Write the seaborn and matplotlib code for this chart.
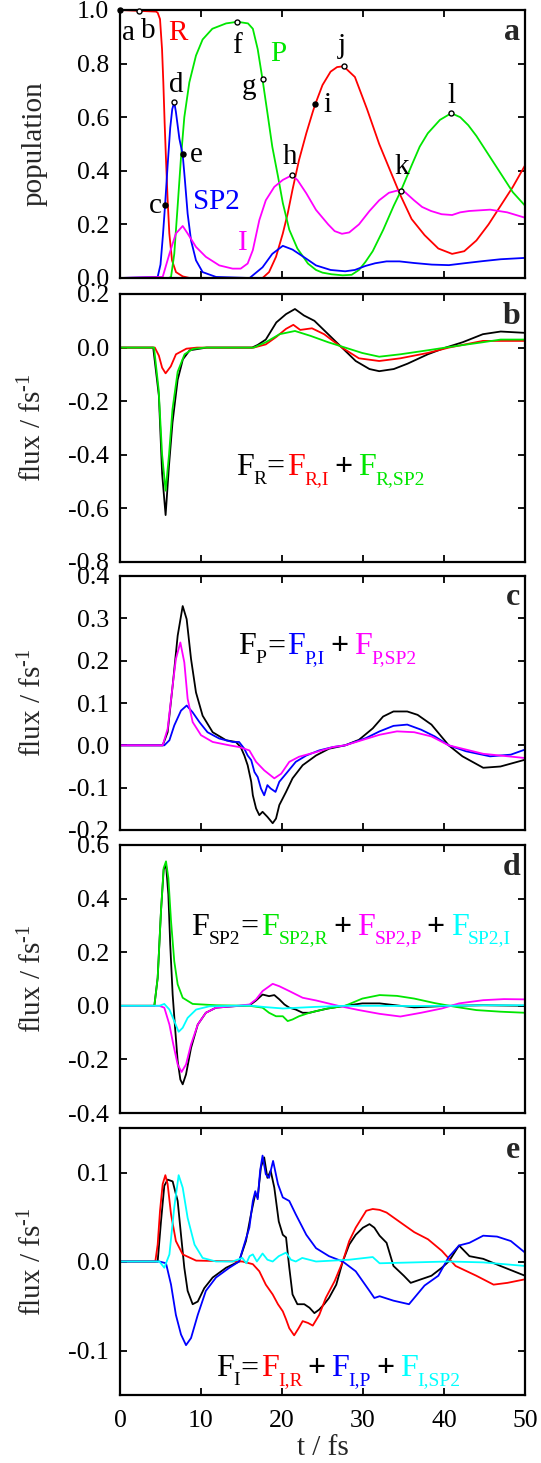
import matplotlib
matplotlib.use("Agg")
import matplotlib.pyplot as plt
import matplotlib.transforms as mtransforms
import matplotlib.ticker as mticker
import seaborn as sns
import pandas as pd

# ---------------- data ----------------
# panel a : populations
a_R_t = [0, 4.44, 4.65, 4.94, 5.19, 5.35, 5.51, 5.68, 5.88, 6.09, 6.42, 6.91, 7.74, 8.6, 17.6, 18.4, 19.26, 20.1, 20.7, 21.3, 22.1, 23.0, 23.8, 24.1, 25.0, 26.0, 26.8, 27.6, 29.0, 30.5, 32.0, 33.5, 34.6, 36.0, 37.6, 39.3, 41.0, 42.5, 44.0, 45.5, 47.0, 48.5, 50.0]
a_R_y = [1.0, 0.994, 0.99, 0.966, 0.854, 0.729, 0.579, 0.441, 0.291, 0.166, 0.066, 0.022, 0.006, 0.0, 0.0, 0.022, 0.079, 0.166, 0.24, 0.33, 0.44, 0.54, 0.62, 0.648, 0.72, 0.77, 0.787, 0.79, 0.75, 0.63, 0.5, 0.39, 0.31, 0.22, 0.16, 0.11, 0.09, 0.1, 0.14, 0.2, 0.27, 0.34, 0.42]
a_P_t = [0, 6.0, 6.3, 6.7, 7.12, 7.53, 7.94, 8.56, 9.38, 10.2, 11.4, 13.1, 14.5, 15.8, 16.4, 17.0, 17.6, 18.2, 18.8, 19.5, 20.1, 20.9, 21.9, 23.2, 24.2, 25.0, 26.1, 27.5, 28.6, 29.5, 30.3, 31.2, 32.5, 33.8, 34.6, 36.0, 37.0, 38.0, 39.5, 40.9, 42.0, 43.0, 44.0, 45.5, 47.0, 48.5, 50.0]
a_P_y = [0, 0, 0.004, 0.09, 0.27, 0.45, 0.6, 0.73, 0.83, 0.89, 0.93, 0.95, 0.956, 0.95, 0.93, 0.854, 0.74, 0.616, 0.49, 0.38, 0.28, 0.18, 0.11, 0.054, 0.03, 0.02, 0.014, 0.01, 0.012, 0.03, 0.06, 0.1, 0.18, 0.27, 0.32, 0.42, 0.49, 0.54, 0.59, 0.615, 0.6, 0.57, 0.53, 0.46, 0.39, 0.32, 0.27]
a_SP2_t = [0, 4.65, 5.0, 5.3, 5.56, 5.88, 6.2, 6.45, 6.7, 6.9, 7.33, 7.74, 8.0, 8.35, 8.77, 9.38, 10.2, 11.85, 16.0, 17.6, 18.8, 20.1, 21.3, 23.0, 24.2, 26.0, 27.8, 29.0, 30.3, 31.5, 32.9, 34.5, 36.3, 38.5, 40.6, 42.5, 44.8, 47.0, 50.0]
a_SP2_y = [0, 0.004, 0.05, 0.16, 0.27, 0.42, 0.56, 0.63, 0.656, 0.62, 0.52, 0.46, 0.37, 0.24, 0.14, 0.066, 0.022, 0.004, 0.0, 0.04, 0.09, 0.12, 0.106, 0.072, 0.047, 0.03, 0.025, 0.03, 0.045, 0.055, 0.062, 0.062, 0.056, 0.05, 0.048, 0.055, 0.063, 0.07, 0.075]
a_I_t = [0, 5.27, 6.1, 6.9, 7.74, 8.35, 9.38, 10.6, 12.26, 13.9, 14.9, 15.76, 16.4, 17.2, 18.0, 19.05, 20.1, 21.2, 21.9, 23.0, 24.2, 25.7, 26.5, 27.4, 28.3, 29.5, 30.8, 32.0, 33.2, 34.2, 35.2, 36.3, 37.3, 38.4, 39.7, 41.0, 42.0, 43.1, 45.7, 47.8, 50.0]
a_I_y = [0, 0.004, 0.09, 0.166, 0.194, 0.166, 0.116, 0.079, 0.047, 0.035, 0.035, 0.054, 0.104, 0.216, 0.29, 0.34, 0.366, 0.383, 0.366, 0.316, 0.254, 0.2, 0.175, 0.165, 0.17, 0.2, 0.25, 0.29, 0.318, 0.326, 0.32, 0.29, 0.265, 0.25, 0.238, 0.235, 0.245, 0.25, 0.255, 0.245, 0.225]
a_mark_lab = ["a", "b", "c", "d", "e", "f", "g", "h", "i", "j", "k", "l"]
a_mark_t = [0.0, 2.3, 5.56, 6.7, 7.74, 14.5, 17.6, 21.2, 24.1, 27.6, 34.7, 40.9]
a_mark_y = [1.0, 0.995, 0.272, 0.656, 0.462, 0.956, 0.741, 0.383, 0.648, 0.791, 0.325, 0.615]
a_mark_filled = [True, False, True, False, True, False, False, False, True, False, False, False]

# panel b : F_R
b_tot_t = [0, 4.1, 4.8, 5.2, 5.63, 6.05, 6.48, 7.12, 7.76, 8.6, 10.7, 16.3, 17.0, 18.0, 19.3, 20.5, 21.6, 22.7, 24.0, 25.7, 27.4, 29.1, 30.8, 32.0, 33.8, 35.5, 38.0, 40.2, 42.3, 44.8, 47.0, 50.0]
b_tot_y = [0, 0, -0.18, -0.47, -0.625, -0.44, -0.28, -0.12, -0.044, -0.01, 0, 0, 0.01, 0.03, 0.094, 0.125, 0.144, 0.12, 0.10, 0.05, 0.0, -0.05, -0.08, -0.088, -0.08, -0.06, -0.025, 0.0, 0.02, 0.05, 0.06, 0.055]
b_RI_t = [0, 4.3, 4.8, 5.2, 5.63, 6.27, 6.91, 8.2, 9.5, 16.5, 18.0, 19.3, 20.5, 21.4, 22.25, 23.7, 25.2, 27.4, 29.5, 32.0, 34.6, 38.0, 40.6, 44.8, 50.0]
b_RI_y = [0, 0, -0.03, -0.075, -0.096, -0.07, -0.025, -0.004, 0, 0, 0.012, 0.04, 0.07, 0.085, 0.066, 0.072, 0.05, 0.0, -0.04, -0.05, -0.04, -0.02, 0.0, 0.025, 0.025]
b_RSP2_t = [0, 4.2, 4.77, 5.2, 5.63, 6.05, 6.48, 7.12, 7.97, 9.0, 10.5, 16.5, 18.0, 19.7, 21.6, 23.5, 25.7, 27.8, 29.9, 32.0, 34.6, 38.0, 40.6, 44.8, 47.0, 50.0]
b_RSP2_y = [0, 0, -0.156, -0.40, -0.534, -0.40, -0.23, -0.09, -0.025, -0.005, 0, 0, 0.02, 0.05, 0.062, 0.044, 0.02, 0.0, -0.02, -0.034, -0.025, -0.01, 0.002, 0.02, 0.03, 0.03]

# panel c : F_P
c_tot_t = [0, 5.27, 5.88, 6.5, 7.12, 7.74, 8.23, 8.77, 9.38, 10.2, 11.44, 13.1, 14.3, 14.9, 15.35, 15.76, 16.2, 16.4, 16.8, 17.2, 17.6, 18.2, 18.85, 19.26, 19.67, 20.5, 21.3, 22.55, 24.2, 25.8, 27.79, 29.5, 31.2, 32.48, 33.76, 35.46, 36.74, 38.45, 40.58, 42.28, 44.84, 46.97, 50.0]
c_tot_y = [0, 0, 0.031, 0.141, 0.259, 0.329, 0.298, 0.204, 0.125, 0.07, 0.031, 0.012, 0.008, -0.004, -0.024, -0.047, -0.086, -0.118, -0.149, -0.165, -0.157, -0.169, -0.184, -0.173, -0.141, -0.11, -0.078, -0.047, -0.024, -0.008, 0.0, 0.013, 0.04, 0.068, 0.08, 0.08, 0.072, 0.049, 0.0, -0.026, -0.053, -0.05, -0.034]
c_PI_t = [0, 5.47, 6.1, 6.7, 7.53, 8.23, 8.97, 9.8, 10.8, 12.26, 13.9, 14.7, 15.35, 15.76, 16.2, 16.6, 17.0, 17.4, 17.8, 18.2, 18.6, 19.2, 19.67, 20.5, 21.7, 23.0, 24.6, 26.3, 27.79, 30.35, 32.05, 33.76, 35.46, 37.17, 38.87, 40.58, 42.71, 45.69, 48.25, 50.0]
c_PI_y = [0, 0, 0.012, 0.047, 0.082, 0.094, 0.078, 0.055, 0.031, 0.016, 0.008, 0.008, -0.008, -0.024, -0.035, -0.063, -0.075, -0.102, -0.118, -0.094, -0.102, -0.11, -0.086, -0.067, -0.039, -0.024, -0.012, -0.004, 0.0, 0.017, 0.033, 0.046, 0.049, 0.037, 0.021, 0.0, -0.014, -0.026, -0.022, -0.01]
c_PSP2_t = [0, 5.27, 5.88, 6.5, 6.9, 7.45, 7.94, 8.35, 8.97, 10.0, 11.44, 13.5, 14.7, 15.97, 16.8, 17.8, 19.05, 19.9, 20.9, 22.1, 24.2, 26.3, 27.79, 32.05, 34.19, 36.32, 38.45, 40.58, 44.84, 50.0]
c_PSP2_y = [0, 0, 0.039, 0.141, 0.204, 0.243, 0.196, 0.11, 0.055, 0.024, 0.008, 0.0, -0.004, -0.012, -0.039, -0.059, -0.078, -0.067, -0.039, -0.027, -0.016, -0.004, 0.0, 0.025, 0.033, 0.031, 0.021, 0.0, -0.02, -0.03]

# panel d : F_SP2
d_tot_t = [0, 4.24, 4.65, 5.06, 5.39, 5.68, 5.97, 6.2, 6.5, 6.83, 7.12, 7.45, 7.74, 8.15, 8.77, 9.6, 10.6, 11.85, 13.9, 16.0, 16.8, 17.6, 18.4, 19.05, 19.67, 20.3, 20.9, 21.7, 22.55, 23.4, 24.2, 25.66, 27.79, 29.92, 32.05, 36.32, 40.58, 44.84, 50.0]
d_tot_y = [0, 0, 0.104, 0.353, 0.508, 0.527, 0.415, 0.229, 0.042, -0.094, -0.206, -0.275, -0.293, -0.256, -0.157, -0.07, -0.026, -0.007, -0.002, 0.002, 0.02, 0.042, 0.036, 0.04, 0.024, 0.005, -0.007, -0.014, -0.026, -0.026, -0.02, -0.01, 0.0, 0.009, 0.009, -0.006, 0.0, 0.002, 0.0]
d_SR_t = [0, 4.24, 4.65, 5.06, 5.39, 5.68, 5.97, 6.3, 6.7, 7.12, 7.74, 8.97, 11.85, 16.0, 17.6, 18.4, 19.26, 20.1, 20.7, 21.3, 22.1, 23.4, 24.2, 25.66, 27.79, 29.92, 32.05, 34.19, 36.32, 38.87, 41.43, 43.99, 46.97, 50.0]
d_SR_y = [0, 0, 0.104, 0.353, 0.514, 0.539, 0.477, 0.316, 0.166, 0.08, 0.03, 0.007, 0.002, 0.0, -0.007, -0.026, -0.039, -0.039, -0.057, -0.051, -0.039, -0.026, -0.02, -0.01, 0.0, 0.027, 0.04, 0.037, 0.027, 0.01, -0.004, -0.016, -0.022, -0.026]
d_SP_t = [0, 4.86, 5.47, 6.1, 6.58, 7.12, 7.6, 8.15, 8.77, 9.6, 10.6, 11.85, 13.9, 16.0, 16.8, 17.6, 18.85, 19.67, 20.9, 22.55, 24.2, 26.94, 29.5, 32.05, 34.61, 37.17, 39.73, 41.86, 44.84, 47.4, 50.0]
d_SP_y = [0, 0, -0.007, -0.07, -0.144, -0.219, -0.247, -0.219, -0.144, -0.07, -0.026, -0.007, -0.002, 0.005, 0.024, 0.055, 0.082, 0.073, 0.055, 0.03, 0.02, 0.0, -0.016, -0.03, -0.04, -0.026, -0.01, 0.009, 0.021, 0.025, 0.024]
d_SI_t = [0, 4.86, 5.47, 6.1, 6.7, 7.24, 7.74, 8.35, 9.4, 11.0, 13.9, 16.0, 18.0, 20.1, 22.1, 24.2, 27.79, 32.05, 36.32, 40.58, 44.84, 50.0]
d_SI_y = [0, 0, 0.007, -0.014, -0.057, -0.097, -0.082, -0.045, -0.014, -0.002, 0.0, 0.001, -0.005, -0.01, -0.007, -0.004, 0.0, 0.0, -0.001, 0.0, 0.002, 0.002]

# panel e : F_I
e_tot_t = [0, 4.65, 5.06, 5.47, 5.88, 6.5, 7.12, 7.53, 7.94, 8.35, 8.97, 9.6, 10.4, 11.44, 13.1, 14.7, 15.55, 16.17, 16.7, 17.0, 17.4, 17.8, 18.2, 18.6, 19.05, 19.6, 20.1, 20.5, 20.9, 21.3, 21.9, 22.75, 23.4, 24.0, 24.6, 25.2, 25.8, 26.7, 27.5, 28.3, 29.1, 30.0, 30.8, 31.4, 32.05, 32.91, 33.76, 35.04, 35.89, 37.17, 38.45, 39.73, 40.58, 41.86, 43.14, 44.84, 46.97, 50.0]
e_tot_y = [0, 0, 0.045, 0.085, 0.092, 0.09, 0.068, 0.03, -0.007, -0.033, -0.048, -0.045, -0.03, -0.018, -0.007, 0.0, 0.023, 0.053, 0.076, 0.072, 0.106, 0.117, 0.094, 0.102, 0.083, 0.045, 0.03, 0.027, -0.007, -0.037, -0.048, -0.048, -0.052, -0.058, -0.054, -0.048, -0.041, -0.026, 0.0, 0.019, 0.03, 0.038, 0.042, 0.038, 0.029, 0.021, -0.005, -0.016, -0.024, -0.02, -0.016, -0.007, 0.0, 0.018, 0.006, 0.003, -0.005, -0.016]
e_IR_t = [0, 4.36, 4.65, 4.94, 5.27, 5.6, 5.88, 6.3, 6.9, 7.74, 9.4, 15.1, 16.4, 17.2, 18.0, 18.85, 19.5, 20.1, 20.5, 20.9, 21.5, 22.05, 22.55, 23.2, 23.8, 24.6, 25.4, 26.5, 27.5, 28.3, 29.1, 30.4, 31.2, 32.05, 32.91, 34.61, 36.32, 38.02, 39.73, 41.43, 43.99, 46.12, 47.83, 50.0]
e_IR_y = [0, 0, 0.019, 0.057, 0.087, 0.097, 0.087, 0.053, 0.023, 0.008, 0.001, 0.0, -0.003, -0.011, -0.026, -0.037, -0.048, -0.056, -0.065, -0.075, -0.083, -0.075, -0.067, -0.069, -0.072, -0.06, -0.041, -0.022, 0.0, 0.023, 0.038, 0.057, 0.059, 0.058, 0.055, 0.044, 0.033, 0.025, 0.012, -0.005, -0.016, -0.026, -0.024, -0.02]
e_IP_t = [0, 4.86, 5.68, 6.3, 6.9, 7.53, 8.15, 8.77, 9.6, 10.6, 11.85, 13.5, 14.7, 15.1, 15.6, 15.97, 16.4, 16.7, 17.0, 17.3, 17.6, 18.0, 18.4, 18.9, 19.5, 20.1, 20.9, 21.7, 23.0, 24.2, 25.8, 27.5, 29.1, 30.8, 31.4, 32.05, 33.76, 35.68, 37.6, 39.3, 40.58, 41.86, 43.14, 44.84, 46.55, 48.25, 50.0]
e_IP_y = [0, 0, -0.002, -0.026, -0.06, -0.082, -0.094, -0.086, -0.06, -0.033, -0.018, -0.007, 0.0, 0.012, 0.027, 0.038, 0.068, 0.079, 0.07, 0.102, 0.119, 0.098, 0.094, 0.113, 0.087, 0.072, 0.068, 0.053, 0.03, 0.015, 0.006, 0.0, -0.011, -0.033, -0.041, -0.039, -0.044, -0.048, -0.027, -0.016, 0.005, 0.018, 0.021, 0.029, 0.028, 0.023, 0.01]
e_ISP2_t = [0, 4.86, 5.47, 6.1, 6.7, 7.24, 7.74, 8.35, 9.2, 10.2, 11.85, 13.9, 15.1, 15.6, 16.0, 16.4, 16.9, 17.6, 18.2, 18.85, 19.6, 20.5, 21.1, 21.7, 22.5, 24.2, 28.3, 31.2, 32.05, 36.32, 40.58, 44.84, 50.0]
e_ISP2_y = [0, 0, -0.007, 0.008, 0.061, 0.097, 0.083, 0.049, 0.019, 0.004, 0.0, 0.0, 0.004, -0.002, 0.006, 0.008, 0.0, 0.009, 0.002, 0.0, 0.006, 0.01, 0.002, 0.0, 0.004, 0.0, 0.002, 0.005, -0.002, -0.001, 0.0, -0.001, -0.005]

x_ticks = [0, 10, 20, 30, 40, 50]
a_yticks = [0.0, 0.2, 0.4, 0.6, 0.8, 1.0]
b_yticks = [-0.8, -0.6, -0.4, -0.2, 0.0, 0.2]
c_yticks = [-0.2, -0.1, 0.0, 0.1, 0.2, 0.3, 0.4]
d_yticks = [-0.4, -0.2, 0.0, 0.2, 0.4, 0.6]
e_yticks = [-0.1, 0.0, 0.1]

# ---------------- style ----------------
sns.set_theme(style="ticks")
plt.rcParams.update({
    "font.family": ["Liberation Serif", "DejaVu Serif"],
    "mathtext.fontset": "custom",
    "mathtext.rm": "Liberation Serif",
    "mathtext.it": "Liberation Serif:italic",
    "mathtext.bf": "Liberation Serif:bold",
    "mathtext.default": "regular",
    "axes.unicode_minus": False,
    "axes.linewidth": 1.6,
    "axes.edgecolor": "black",
    "xtick.direction": "in",
    "ytick.direction": "in",
    "xtick.top": True,
    "ytick.right": True,
    "xtick.major.size": 5,
    "ytick.major.size": 5,
    "xtick.major.width": 1.3,
    "ytick.major.width": 1.3,
    "xtick.color": "black",
    "ytick.color": "black",
})

RED = "#ff0000"
GREEN = "#00e600"
BLUE = "#0000ff"
MAG = "#ff00ff"
CYAN = "#00ffff"
BLACK = "#000000"

W, H = 541, 1463
fig = plt.figure(figsize=(W / 100, H / 100), dpi=100)

left_px, right_px = 120, 525
panels_px = [(10, 278), (294, 562), (576, 830), (845, 1113), (1128, 1395)]
axes = []
for top, bot in panels_px:
    axes.append(fig.add_axes([left_px / W, 1 - bot / H, (right_px - left_px) / W, (bot - top) / H]))

TICK_FS = 18.5
LAB_FS = 21
LW = 1.3
MAIN = 23
SUB = 14
SUB_DY = -9  # pixels


def draw(ax, t, y, color):
    df = pd.DataFrame({"t": t, "v": y})
    sns.lineplot(data=df, x="t", y="v", ax=ax, color=color, lw=LW,
                 sort=False, estimator=None, legend=False)


def formula(ax, x, y, terms):
    """terms: list of (main, sub, color); joined by '=' after first and ' + ' after others"""
    renderer = fig.canvas.get_renderer()
    xoff = [0.0]

    def put(s, color, size, dy, weight="normal", gap=0.0):
        xoff[0] += gap
        tr = mtransforms.offset_copy(ax.transData, fig=fig, x=xoff[0], y=dy, units="dots")
        txt = ax.text(x, y, s, color=color, fontsize=size, fontweight=weight,
                      transform=tr, va="baseline", ha="left")
        xoff[0] += txt.get_window_extent(renderer).width

    for k, (m, s, c) in enumerate(terms):
        if k == 1:
            put("=", BLACK, MAIN, 0, gap=0.5)
            gap = 2.5
        elif k > 1:
            put("+", BLACK, MAIN, 0, weight="bold", gap=5)
            gap = 6
        else:
            gap = 0
        put(m, c, MAIN, 0, gap=gap)
        put(s, c, SUB, SUB_DY, gap=-0.5)


# ---------------- panel a ----------------
ax = axes[0]
draw(ax, a_R_t, a_R_y, RED)
draw(ax, a_P_t, a_P_y, GREEN)
draw(ax, a_SP2_t, a_SP2_y, BLUE)
draw(ax, a_I_t, a_I_y, MAG)
for tt, yy, f in zip(a_mark_t, a_mark_y, a_mark_filled):
    ax.plot([tt], [yy], marker="o", ms=3.6, mec="black", mfc="black" if f else "white",
            mew=1.0, clip_on=False, zorder=5)
lab_pos = {"a": (1.0, 0.916), "b": (3.5, 0.92), "c": (4.4, 0.27), "d": (7.0, 0.72),
           "e": (9.4, 0.46), "f": (14.4, 0.866), "g": (15.9, 0.714), "h": (21.0, 0.45),
           "i": (25.6, 0.645), "j": (27.4, 0.866), "k": (34.8, 0.416), "l": (40.9, 0.68)}
for lab in a_mark_lab:
    px, py = lab_pos[lab]
    ax.text(px, py, lab, fontsize=LAB_FS, ha="center", va="center", color="black")
ax.text(7.1, 0.916, "R", color=RED, fontsize=LAB_FS, ha="center", va="center")
ax.text(19.5, 0.835, "P", color=GREEN, fontsize=LAB_FS, ha="center", va="center")
ax.text(11.9, 0.285, "SP2", color=BLUE, fontsize=LAB_FS, ha="center", va="center")
ax.text(15.2, 0.13, "I", color=MAG, fontsize=LAB_FS, ha="center", va="center")
ax.set_ylim(0, 1.0)
ax.set_yticks(a_yticks)
ax.set_ylabel("population", fontsize=LAB_FS)

# ---------------- panel b ----------------
ax = axes[1]
draw(ax, b_tot_t, b_tot_y, BLACK)
draw(ax, b_RI_t, b_RI_y, RED)
draw(ax, b_RSP2_t, b_RSP2_y, GREEN)
ax.set_ylim(-0.8, 0.2)
ax.set_yticks(b_yticks)

# ---------------- panel c ----------------
ax = axes[2]
draw(ax, c_tot_t, c_tot_y, BLACK)
draw(ax, c_PI_t, c_PI_y, BLUE)
draw(ax, c_PSP2_t, c_PSP2_y, MAG)
ax.set_ylim(-0.2, 0.4)
ax.set_yticks(c_yticks)

# ---------------- panel d ----------------
ax = axes[3]
draw(ax, d_tot_t, d_tot_y, BLACK)
draw(ax, d_SR_t, d_SR_y, GREEN)
draw(ax, d_SP_t, d_SP_y, MAG)
draw(ax, d_SI_t, d_SI_y, CYAN)
ax.set_ylim(-0.4, 0.6)
ax.set_yticks(d_yticks)

# ---------------- panel e ----------------
ax = axes[4]
draw(ax, e_tot_t, e_tot_y, BLACK)
draw(ax, e_IR_t, e_IR_y, RED)
draw(ax, e_IP_t, e_IP_y, BLUE)
draw(ax, e_ISP2_t, e_ISP2_y, CYAN)
ax.set_ylim(-0.15, 0.15)
ax.set_yticks(e_yticks)

for i, (ax, letter) in enumerate(zip(axes, "abcde")):
    ax.set_xlim(0, 50)
    ax.set_xticks(x_ticks)
    ax.yaxis.set_major_formatter(mticker.FormatStrFormatter("%.1f"))
    ax.tick_params(axis="y", which="major", labelsize=TICK_FS, pad=8)
    ax.tick_params(axis="x", which="major", labelsize=TICK_FS, pad=11)
    ax.tick_params(axis="both", top=True, right=True, direction="in")
    for sp in ax.spines.values():
        sp.set_visible(True)
        sp.set_linewidth(1.6)
        sp.set_color("black")
    if i < 4:
        ax.set_xticklabels([])
        ax.set_xlabel("")
    else:
        ax.set_xlabel("t / fs", fontsize=LAB_FS, labelpad=2)
    if i > 0:
        ax.set_ylabel(r"flux / fs$^{\text{-1}}$", fontsize=LAB_FS)
    ax.yaxis.set_label_coords(-0.18, 0.5)
    ax.text(0.988, 0.915, letter, transform=ax.transAxes, fontsize=23,
            fontweight="bold", ha="right", va="center")

fig.canvas.draw()

formula(axes[1], 14.3, -0.475,
        [("F", "R", BLACK), ("F", "R,I", RED), ("F", "R,SP2", GREEN)])
formula(axes[2], 14.6, 0.215,
        [("F", "P", BLACK), ("F", "P,I", BLUE), ("F", "P,SP2", MAG)])
formula(axes[3], 8.8, 0.266,
        [("F", "SP2", BLACK), ("F", "SP2,R", GREEN), ("F", "SP2,P", MAG), ("F", "SP2,I", CYAN)])
formula(axes[4], 11.8, -0.129,
        [("F", "I", BLACK), ("F", "I,R", RED), ("F", "I,P", BLUE), ("F", "I,SP2", CYAN)])

fig.savefig("out.png", dpi=100)
